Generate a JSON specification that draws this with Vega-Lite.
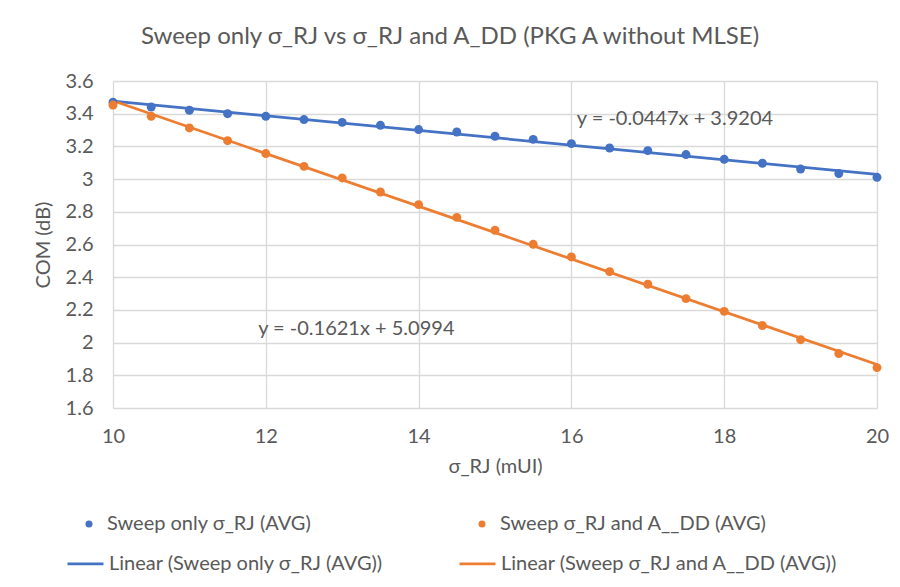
{
  "$schema": "https://vega.github.io/schema/vega-lite/v6.json",
  "autosize": {"type": "none"},
  "width": 764,
  "height": 327,
  "padding": {"left": 113, "top": 81, "right": 23, "bottom": 179},
  "background": "white",
  "config": {
    "font": "Lato",
    "view": {"stroke": null},
    "axis": {"labelColor": "#595959", "titleColor": "#595959", "labelFont": "Lato", "titleFont": "Lato", "labelFontSize": 20, "titleFontSize": 20, "titleFontWeight": "normal", "gridColor": "#d9d9d9", "gridWidth": 1.3, "domain": false, "ticks": false, "labelOverlap": false, "labelFlush": false, "labelBound": false},
    "legend": {"labelFont": "Lato", "labelFontSize": 20, "labelColor": "#595959", "labelLimit": 500}
  },
  "title": {"text": "Sweep only σ_RJ vs σ_RJ and A_DD (PKG A without MLSE)", "fontSize": 24, "fontWeight": "normal", "color": "#595959", "font": "Lato", "anchor": "middle", "dx": -45, "offset": 22},
  "datasets": {
    "pts": [
      {"x": 10, "y": 3.47, "series": "Sweep only σ_RJ (AVG)", "trend": "Linear (Sweep only σ_RJ (AVG))"},
      {"x": 10.5, "y": 3.441, "series": "Sweep only σ_RJ (AVG)", "trend": "Linear (Sweep only σ_RJ (AVG))"},
      {"x": 11, "y": 3.421, "series": "Sweep only σ_RJ (AVG)", "trend": "Linear (Sweep only σ_RJ (AVG))"},
      {"x": 11.5, "y": 3.40, "series": "Sweep only σ_RJ (AVG)", "trend": "Linear (Sweep only σ_RJ (AVG))"},
      {"x": 12, "y": 3.384, "series": "Sweep only σ_RJ (AVG)", "trend": "Linear (Sweep only σ_RJ (AVG))"},
      {"x": 12.5, "y": 3.364, "series": "Sweep only σ_RJ (AVG)", "trend": "Linear (Sweep only σ_RJ (AVG))"},
      {"x": 13, "y": 3.347, "series": "Sweep only σ_RJ (AVG)", "trend": "Linear (Sweep only σ_RJ (AVG))"},
      {"x": 13.5, "y": 3.329, "series": "Sweep only σ_RJ (AVG)", "trend": "Linear (Sweep only σ_RJ (AVG))"},
      {"x": 14, "y": 3.303, "series": "Sweep only σ_RJ (AVG)", "trend": "Linear (Sweep only σ_RJ (AVG))"},
      {"x": 14.5, "y": 3.288, "series": "Sweep only σ_RJ (AVG)", "trend": "Linear (Sweep only σ_RJ (AVG))"},
      {"x": 15, "y": 3.262, "series": "Sweep only σ_RJ (AVG)", "trend": "Linear (Sweep only σ_RJ (AVG))"},
      {"x": 15.5, "y": 3.243, "series": "Sweep only σ_RJ (AVG)", "trend": "Linear (Sweep only σ_RJ (AVG))"},
      {"x": 16, "y": 3.217, "series": "Sweep only σ_RJ (AVG)", "trend": "Linear (Sweep only σ_RJ (AVG))"},
      {"x": 16.5, "y": 3.190, "series": "Sweep only σ_RJ (AVG)", "trend": "Linear (Sweep only σ_RJ (AVG))"},
      {"x": 17, "y": 3.174, "series": "Sweep only σ_RJ (AVG)", "trend": "Linear (Sweep only σ_RJ (AVG))"},
      {"x": 17.5, "y": 3.150, "series": "Sweep only σ_RJ (AVG)", "trend": "Linear (Sweep only σ_RJ (AVG))"},
      {"x": 18, "y": 3.121, "series": "Sweep only σ_RJ (AVG)", "trend": "Linear (Sweep only σ_RJ (AVG))"},
      {"x": 18.5, "y": 3.097, "series": "Sweep only σ_RJ (AVG)", "trend": "Linear (Sweep only σ_RJ (AVG))"},
      {"x": 19, "y": 3.062, "series": "Sweep only σ_RJ (AVG)", "trend": "Linear (Sweep only σ_RJ (AVG))"},
      {"x": 19.5, "y": 3.034, "series": "Sweep only σ_RJ (AVG)", "trend": "Linear (Sweep only σ_RJ (AVG))"},
      {"x": 20, "y": 3.011, "series": "Sweep only σ_RJ (AVG)", "trend": "Linear (Sweep only σ_RJ (AVG))"},
      {"x": 10, "y": 3.453, "series": "Sweep σ_RJ and A__DD (AVG)", "trend": "Linear (Sweep σ_RJ and A__DD (AVG))"},
      {"x": 10.5, "y": 3.384, "series": "Sweep σ_RJ and A__DD (AVG)", "trend": "Linear (Sweep σ_RJ and A__DD (AVG))"},
      {"x": 11, "y": 3.313, "series": "Sweep σ_RJ and A__DD (AVG)", "trend": "Linear (Sweep σ_RJ and A__DD (AVG))"},
      {"x": 11.5, "y": 3.235, "series": "Sweep σ_RJ and A__DD (AVG)", "trend": "Linear (Sweep σ_RJ and A__DD (AVG))"},
      {"x": 12, "y": 3.156, "series": "Sweep σ_RJ and A__DD (AVG)", "trend": "Linear (Sweep σ_RJ and A__DD (AVG))"},
      {"x": 12.5, "y": 3.078, "series": "Sweep σ_RJ and A__DD (AVG)", "trend": "Linear (Sweep σ_RJ and A__DD (AVG))"},
      {"x": 13, "y": 3.007, "series": "Sweep σ_RJ and A__DD (AVG)", "trend": "Linear (Sweep σ_RJ and A__DD (AVG))"},
      {"x": 13.5, "y": 2.921, "series": "Sweep σ_RJ and A__DD (AVG)", "trend": "Linear (Sweep σ_RJ and A__DD (AVG))"},
      {"x": 14, "y": 2.844, "series": "Sweep σ_RJ and A__DD (AVG)", "trend": "Linear (Sweep σ_RJ and A__DD (AVG))"},
      {"x": 14.5, "y": 2.766, "series": "Sweep σ_RJ and A__DD (AVG)", "trend": "Linear (Sweep σ_RJ and A__DD (AVG))"},
      {"x": 15, "y": 2.687, "series": "Sweep σ_RJ and A__DD (AVG)", "trend": "Linear (Sweep σ_RJ and A__DD (AVG))"},
      {"x": 15.5, "y": 2.601, "series": "Sweep σ_RJ and A__DD (AVG)", "trend": "Linear (Sweep σ_RJ and A__DD (AVG))"},
      {"x": 16, "y": 2.524, "series": "Sweep σ_RJ and A__DD (AVG)", "trend": "Linear (Sweep σ_RJ and A__DD (AVG))"},
      {"x": 16.5, "y": 2.434, "series": "Sweep σ_RJ and A__DD (AVG)", "trend": "Linear (Sweep σ_RJ and A__DD (AVG))"},
      {"x": 17, "y": 2.357, "series": "Sweep σ_RJ and A__DD (AVG)", "trend": "Linear (Sweep σ_RJ and A__DD (AVG))"},
      {"x": 17.5, "y": 2.269, "series": "Sweep σ_RJ and A__DD (AVG)", "trend": "Linear (Sweep σ_RJ and A__DD (AVG))"},
      {"x": 18, "y": 2.191, "series": "Sweep σ_RJ and A__DD (AVG)", "trend": "Linear (Sweep σ_RJ and A__DD (AVG))"},
      {"x": 18.5, "y": 2.104, "series": "Sweep σ_RJ and A__DD (AVG)", "trend": "Linear (Sweep σ_RJ and A__DD (AVG))"},
      {"x": 19, "y": 2.018, "series": "Sweep σ_RJ and A__DD (AVG)", "trend": "Linear (Sweep σ_RJ and A__DD (AVG))"},
      {"x": 19.5, "y": 1.933, "series": "Sweep σ_RJ and A__DD (AVG)", "trend": "Linear (Sweep σ_RJ and A__DD (AVG))"},
      {"x": 20, "y": 1.847, "series": "Sweep σ_RJ and A__DD (AVG)", "trend": "Linear (Sweep σ_RJ and A__DD (AVG))"}
    ],
    "notes": [
      {"x": 16.07, "y": 3.366, "label": "y = -0.0447x + 3.9204"},
      {"x": 11.9, "y": 2.081, "label": "y = -0.1621x + 5.0994"}
    ]
  },
  "layer": [
    {
      "data": {"name": "pts"},
      "transform": [{"regression": "y", "on": "x", "groupby": ["trend"], "extent": [10, 20]}],
      "mark": {"type": "line", "strokeWidth": 2.75},
      "encoding": {
        "x": {"field": "x", "type": "quantitative", "scale": {"domain": [10, 20], "nice": false}, "axis": {"values": [10, 12, 14, 16, 18, 20], "tickCount": 6, "format": "d", "title": "σ_RJ (mUI)", "labelPadding": 18, "titlePadding": 10}},
        "y": {"field": "y", "type": "quantitative", "scale": {"domain": [1.6, 3.6], "nice": false, "zero": false}, "axis": {"values": [1.6, 1.8, 2, 2.2, 2.4, 2.6, 2.8, 3, 3.2, 3.4, 3.6], "tickCount": 11, "format": "~g", "title": "COM (dB)", "labelPadding": 20, "titlePadding": 12}},
        "stroke": {"field": "trend", "type": "nominal", "scale": {"domain": ["Linear (Sweep only σ_RJ (AVG))", "Linear (Sweep σ_RJ and A__DD (AVG))"], "range": ["#4472C4", "#ED7D31"]},
          "legend": {"title": null, "orient": "none", "legendX": -47, "legendY": 463, "columns": 2, "columnPadding": 70, "symbolType": "stroke", "symbolSize": 1296, "symbolStrokeWidth": 2.75, "labelOffset": 4}}
      }
    },
    {
      "data": {"name": "pts"},
      "mark": {"type": "circle", "size": 80, "opacity": 1},
      "encoding": {
        "x": {"field": "x", "type": "quantitative"},
        "y": {"field": "y", "type": "quantitative"},
        "fill": {"field": "series", "type": "nominal", "scale": {"domain": ["Sweep only σ_RJ (AVG)", "Sweep σ_RJ and A__DD (AVG)"], "range": ["#4472C4", "#ED7D31"]},
          "legend": {"title": null, "orient": "none", "legendX": -34, "legendY": 433, "columns": 2, "columnPadding": 160, "symbolType": "circle", "symbolSize": 50, "symbolStrokeWidth": 0, "labelOffset": 8}}
      }
    },
    {
      "data": {"name": "notes"},
      "mark": {"type": "text", "align": "left", "baseline": "middle", "fontSize": 20, "color": "#595959", "font": "Lato"},
      "encoding": {
        "x": {"field": "x", "type": "quantitative"},
        "y": {"field": "y", "type": "quantitative"},
        "text": {"field": "label"}
      }
    }
  ]
}
